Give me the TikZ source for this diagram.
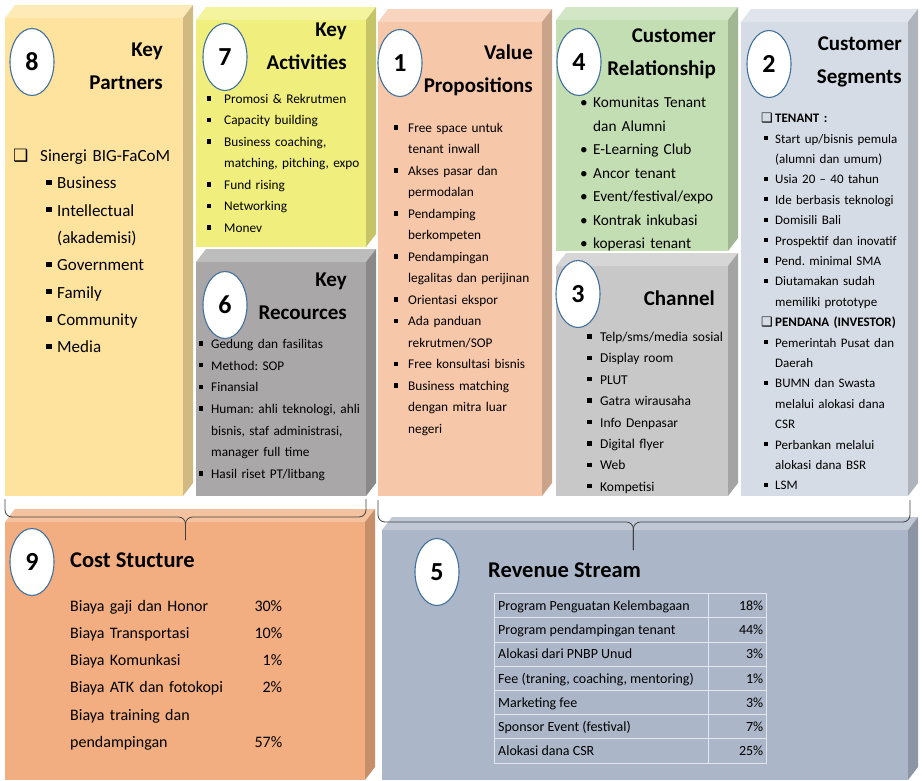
\documentclass[tikz,border=0pt]{standalone}
\usepackage{fontspec}
\setmainfont{Carlito}
\newfontfamily\symfont{DejaVu Sans}
\usepackage{colortbl}
\usetikzlibrary{calc,shapes.geometric}
\definecolor{kpfill}{HTML}{FDE39E}
\definecolor{kafill}{HTML}{F0EF7E}
\definecolor{krfill}{HTML}{A9A7A7}
\definecolor{vpfill}{HTML}{F7C7AA}
\definecolor{crfill}{HTML}{C4DEB3}
\definecolor{chfill}{HTML}{C8C8C8}
\definecolor{csfill}{HTML}{D6DCE5}
\definecolor{costfill}{HTML}{F2AE80}
\definecolor{revfill}{HTML}{ABB6C8}
\definecolor{cline}{HTML}{41719C}
\definecolor{tline}{HTML}{E2E6EE}
\newlength{\bw}
\newcommand{\sqb}{\makebox[\bw][l]{\rule[.22em]{.32em}{.32em}}}
\newcommand{\rdb}{\makebox[\bw][l]{\textbullet}}
\newcommand{\ind}{\hspace*{\bw}}
\newcommand{\chk}{{\symfont ❑}}
\newcommand{\rsh}{\rule[-7pt]{0pt}{23.2pt}}
\newcommand{\boxfaces}[2]{%
 \fill[#2!75!white] (#1.north west) -- ++(10,-13) -- ($(#1.north east)+(10,-13)$) -- (#1.north east) -- cycle;
 \fill[#2!82!black] (#1.north east) -- ++(10,-13) -- ($(#1.south east)+(10,-13)$) -- (#1.south east) -- cycle;}
\frenchspacing

\begin{document}
\begin{tikzpicture}[x=1pt,y=-1pt,
 face/.style={anchor=north west,inner sep=0pt,outer sep=0pt},
 numc/.style={ellipse,draw=cline,line width=1.1pt,fill=white,minimum width=44pt,minimum height=67pt,inner sep=0pt,font=\fontsize{26}{28}\selectfont\bfseries},
 ttl/.style={anchor=north east,align=right,inner sep=0pt,font=\fontsize{21}{33}\selectfont\bfseries},
 lst/.style={anchor=north west,align=left,inner sep=0pt},
 brc/.style={draw=black!75,line width=0.8pt,rounded corners=7pt}]
\path[use as bounding box,fill=white] (0,0) rectangle (922,780);

\node[face,fill=kpfill,minimum width=178pt,minimum height=478pt] (kp) at (5,18) {};
\node[face,fill=kafill,minimum width=170pt,minimum height=227pt] (ka) at (196,20) {};
\node[face,fill=krfill,minimum width=170pt,minimum height=234pt] (kr) at (196,262) {};
\node[face,fill=vpfill,minimum width=164pt,minimum height=474pt] (vp) at (378,22) {};
\node[face,fill=crfill,minimum width=172pt,minimum height=231pt] (cr) at (556,20) {};
\node[face,fill=chfill,minimum width=172pt,minimum height=230pt] (ch) at (556,266) {};
\node[face,fill=csfill,minimum width=167pt,minimum height=474pt] (cs) at (741,22) {};
\node[face,fill=costfill,minimum width=360pt,minimum height=258pt] (cost) at (5,522) {};
\node[face,fill=revfill,minimum width=526pt,minimum height=250pt] (rev) at (382,530) {};
\boxfaces{kp}{kpfill}
\boxfaces{ka}{kafill}
\boxfaces{kr}{krfill}
\boxfaces{vp}{vpfill}
\boxfaces{cr}{crfill}
\boxfaces{ch}{chfill}
\boxfaces{cs}{csfill}
\boxfaces{cost}{costfill}
\boxfaces{rev}{revfill}

\coordinate (b1s) at ($(kp.south west)+(0,3)$);
\coordinate (b1e) at ($(kr.south east)+(0,3)$);
\coordinate (b1m) at ($(b1s)!.5!(b1e)$);
\draw[brc] (b1s) -- ++(0,18) -| ($(b1m)+(0,41)$);
\draw[brc] (b1e) -- ++(0,18) -| ($(b1m)+(0,41)$);
\coordinate (b2s) at ($(vp.south west)+(0,4)$);
\coordinate (b2e) at ($(cs.south east)+(2,4)$);
\coordinate (b2m) at ($(b2s)!.48!(b2e)$);
\draw[brc] (b2s) -- ++(0,22) -| ($(b2m)+(0,50)$);
\draw[brc] (b2e) -- ++(0,22) -| ($(b2m)+(0,50)$);

\node[numc] (n8) at (32,62) {8};
\node[numc] (n7) at (225,57) {7};
\node[numc] (n6) at (225,305) {6};
\node[numc] (n1) at (400,63) {1};
\node[numc] (n4) at (579,62) {4};
\node[numc] (n3) at (578,294) {3};
\node[numc] (n2) at (769,64) {2};
\node[numc] (n9) at (32,562) {9};
\node[numc] (n5) at (437,572) {5};

\node[ttl] (kpt) at (163,43) {Key\\Partners};
\node[ttl] (kat) at (347,23) {Key\\Activities};
\node[ttl] (krt) at (347,273) {Key\\Recources};
\node[ttl] (vpt) at (533,45) {Value\\Propositions};
\node[ttl] (crt) at (716,29) {Customer\\Relationship};
\node[ttl] (cht) at (715,291) {Channel};
\node[ttl] (cst) at (902,37) {Customer\\Segments};
\node[ttl,anchor=west,font=\fontsize{22.5}{26}\selectfont\bfseries] (costt) at (70,560) {Cost Stucture};
\node[ttl,anchor=west,font=\fontsize{22.5}{26}\selectfont\bfseries] (revt) at (488,570) {Revenue Stream};

\node[lst,text width=172pt,font={\fontsize{17}{27.3}\selectfont\setlength{\bw}{11pt}}] (kpl) at (13,149) {\makebox[27pt][l]{\chk}Sinergi BIG-FaCoM\\
\hspace*{33pt}\sqb Business\\ \hspace*{33pt}\sqb Intellectual\\ \hspace*{44pt}(akademisi)\\ \hspace*{33pt}\sqb Government\\ \hspace*{33pt}\sqb Family\\ \hspace*{33pt}\sqb Community\\ \hspace*{33pt}\sqb Media};
\node[lst,text width=165pt,font={\fontsize{13.3}{21.5}\selectfont\setlength{\bw}{17pt}}] (kal) at (207,94) {\sqb Promosi \& Rekrutmen\\ \sqb Capacity building\\ \sqb Business coaching,\\ \ind matching, pitching, expo\\ \sqb Fund rising\\ \sqb Networking\\ \sqb Monev};
\node[lst,text width=170pt,font={\fontsize{13.3}{21.7}\selectfont\setlength{\bw}{12pt}}] (krl) at (199,339) {\sqb Gedung dan fasilitas\\ \sqb Method: SOP\\ \sqb Finansial\\ \sqb Human: ahli teknologi, ahli\\ \ind bisnis, staf administrasi,\\ \ind manager full time\\ \sqb Hasil riset PT/litbang};
\node[lst,text width=150pt,font={\fontsize{13.3}{21.5}\selectfont\setlength{\bw}{14pt}}] (vpl) at (394,123) {\sqb Free space untuk\\ \ind tenant inwall\\ \sqb Akses pasar dan\\ \ind permodalan\\ \sqb Pendamping\\ \ind berkompeten\\ \sqb Pendampingan\\ \ind legalitas dan perijinan\\ \sqb Orientasi ekspor\\ \sqb Ada panduan\\ \ind rekrutmen/SOP\\ \sqb Free konsultasi bisnis\\ \sqb Business matching\\ \ind dengan mitra luar\\ \ind negeri};
\node[lst,text width=150pt,font={\fontsize{15.3}{23.5}\selectfont\setlength{\bw}{13pt}}] (crl) at (580,97) {\rdb Komunitas Tenant\\ \ind dan Alumni\\ \rdb E-Learning Club\\ \rdb Ancor tenant\\ \rdb Event/festival/expo\\ \rdb Kontrak inkubasi\\ \rdb koperasi tenant};
\node[lst,text width=145pt,font={\fontsize{13.5}{21.4}\selectfont\setlength{\bw}{13pt}}] (chl) at (587,332) {\sqb Telp/sms/media sosial\\ \sqb Display room\\ \sqb PLUT\\ \sqb Gatra wirausaha\\ \sqb Info Denpasar\\ \sqb Digital flyer\\ \sqb Web\\ \sqb Kompetisi};
\node[lst,text width=145pt,font={\fontsize{13}{20.4}\selectfont\setlength{\bw}{11pt}}] (csl) at (764,113) {\hspace*{-3pt}\makebox[14pt][l]{\chk}\textbf{TENANT :}\\
\sqb Start up/bisnis pemula\\ \ind (alumni dan umum)\\ \sqb Usia 20 – 40 tahun\\ \sqb Ide berbasis teknologi\\ \sqb Domisili Bali\\ \sqb Prospektif dan inovatif\\ \sqb Pend. minimal SMA\\ \sqb Diutamakan sudah\\ \ind memiliki prototype\\
\hspace*{-3pt}\makebox[14pt][l]{\chk}\textbf{PENDANA (INVESTOR)}\\
\sqb Pemerintah Pusat dan\\ \ind Daerah\\ \sqb BUMN dan Swasta\\ \ind melalui alokasi dana\\ \ind CSR\\ \sqb Perbankan melalui\\ \ind alokasi dana BSR\\ \sqb LSM};
\node[lst,text width=212pt,font=\fontsize{16}{27.2}\selectfont] (costl) at (70,600) {Biaya gaji dan Honor\hfill 30\%\\ Biaya Transportasi\hfill 10\%\\ Biaya Komunkasi\hfill 1\%\\ Biaya ATK dan fotokopi\hfill 2\%\\ Biaya training dan\\ pendampingan\hfill 57\%};
\node[lst,font=\fontsize{14}{16}\selectfont] (revl) at (494,593) {\arrayrulecolor{tline}\setlength{\arrayrulewidth}{1pt}\setlength{\tabcolsep}{3pt}%
\begin{tabular}{|p{207pt}|>{\raggedleft\arraybackslash}p{51pt}|}\hline
Program Penguatan Kelembagaan\rsh & 18\%\\\hline
Program pendampingan tenant\rsh & 44\%\\\hline
Alokasi dari PNBP Unud\rsh & 3\%\\\hline
Fee (traning, coaching, mentoring)\rsh & 1\%\\\hline
Marketing fee\rsh & 3\%\\\hline
Sponsor Event (festival)\rsh & 7\%\\\hline
Alokasi dana CSR\rsh & 25\%\\\hline
\end{tabular}};
\end{tikzpicture}
\end{document}
